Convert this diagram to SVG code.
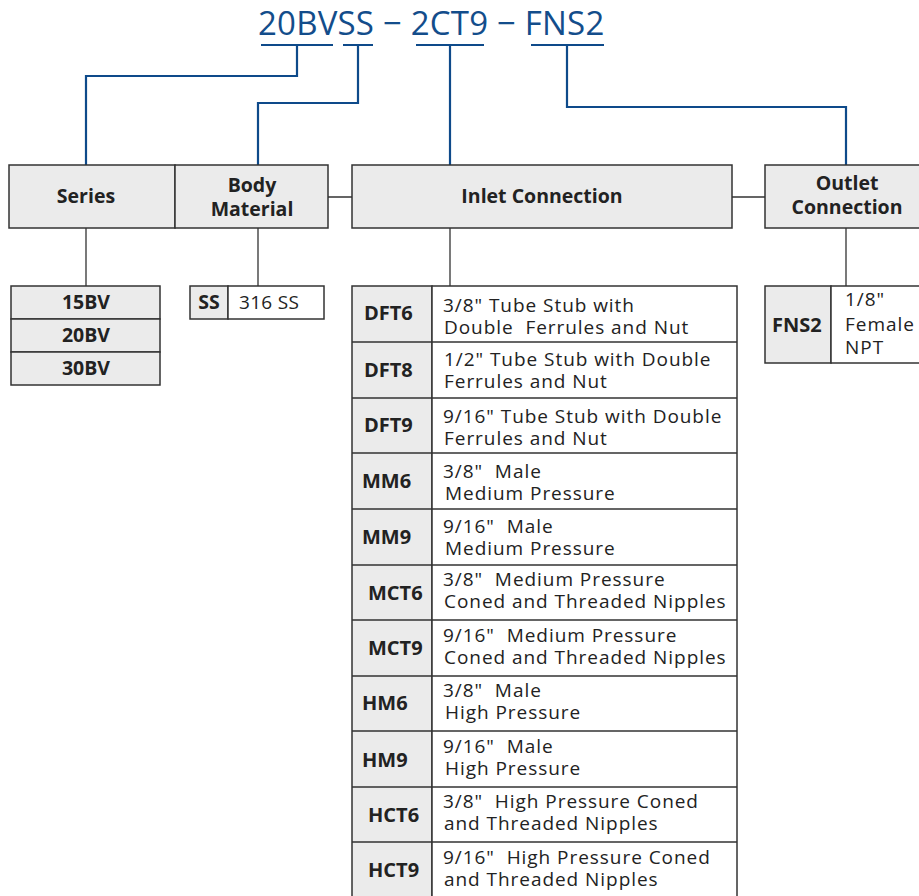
<svg xmlns="http://www.w3.org/2000/svg" width="919" height="896" viewBox="0 0 919 896">
<style>
.t{font-family:"Open Sans","Liberation Sans",sans-serif;fill:#222;white-space:pre}
.b{font-weight:bold;font-size:20px}
.r{font-size:19px;letter-spacing:0.95px}
.h{font-weight:bold;font-size:19.5px;text-anchor:middle}
.title{font-family:"Open Sans","Liberation Sans",sans-serif;font-size:33px;fill:#134d8b;white-space:pre;letter-spacing:0.2px}
.box{fill:#ebebeb;stroke:#333;stroke-width:1.5}
.cell{fill:#fff;stroke:#333;stroke-width:1.5}
.blue{fill:none;stroke:#0e4a8a;stroke-width:2.2}
.gray{fill:none;stroke:#333;stroke-width:1.3}
</style>
<rect width="919" height="896" fill="#fff"/>
<g id="title">
<text class="title" x="258" y="35">20BVSS − 2CT9 − FNS2</text>
</g>
<g id="connectors">
<path class="blue" d="M261 45H333M343 45H373M416 45H484M531 45H604"/>
<path class="blue" d="M297 45V76H86V165"/>
<path class="blue" d="M358 45V103H258V165"/>
<path class="blue" d="M450 45V165"/>
<path class="blue" d="M567 45V107H846V165"/>
<path class="gray" d="M328 197H352M732 197H765"/>
<path class="gray" d="M86 228V286M258 228V286M450 228V286M846 228V286"/>
</g>
<g id="header-series">
<rect class="box" x="9" y="165" width="166" height="63"/>
<text class="t h" x="86" y="203">Series</text>
</g>
<g id="header-body">
<rect class="box" x="175" y="165" width="153" height="63"/>
<text class="t h" x="252" y="192">Body</text>
<text class="t h" x="252" y="216">Material</text>
</g>
<g id="header-inlet">
<rect class="box" x="352" y="165" width="380" height="63"/>
<text class="t h" x="542" y="203">Inlet Connection</text>
</g>
<g id="header-outlet">
<rect class="box" x="765" y="165" width="160" height="63"/>
<text class="t h" x="847" y="190">Outlet</text>
<text class="t h" x="847" y="214">Connection</text>
</g>
<g id="series-table">
<rect class="box" x="11" y="286" width="149" height="33"/>
<rect class="box" x="11" y="319" width="149" height="33"/>
<rect class="box" x="11" y="352" width="149" height="33"/>
<text class="t h" x="86" y="309">15BV</text>
<text class="t h" x="86" y="342">20BV</text>
<text class="t h" x="86" y="375">30BV</text>
</g>
<g id="body-table">
<rect class="box" x="190" y="286" width="38" height="33"/>
<rect class="cell" x="228" y="286" width="96" height="33"/>
<text class="t h" x="209" y="309">SS</text>
<text class="t r" x="239" y="309" style="letter-spacing:0.3px">316 SS</text>
</g>
<g id="inlet-table">
<rect class="box" x="352" y="286" width="80" height="614"/>
<rect class="cell" x="432" y="286" width="305" height="614"/>
<path class="gray" d="M352 342H737M352 398H737M352 453H737M352 509H737M352 565H737M352 620H737M352 676H737M352 731H737M352 787H737M352 842H737" style="stroke-width:1.5"/>
<text class="t b" x="364" y="320">DFT6</text>
<text class="t r" x="443" y="312">3/8" Tube Stub with</text>
<text class="t r" x="444" y="334">Double  Ferrules and Nut</text>
<text class="t b" x="364" y="377">DFT8</text>
<text class="t r" x="444" y="366">1/2" Tube Stub with Double</text>
<text class="t r" x="444" y="388">Ferrules and Nut</text>
<text class="t b" x="364" y="432">DFT9</text>
<text class="t r" x="443" y="423">9/16" Tube Stub with Double</text>
<text class="t r" x="444" y="445">Ferrules and Nut</text>
<text class="t b" x="362" y="488">MM6</text>
<text class="t r" x="443" y="478">3/8"  Male</text>
<text class="t r" x="445" y="500">Medium Pressure</text>
<text class="t b" x="362" y="544">MM9</text>
<text class="t r" x="443" y="533">9/16"  Male</text>
<text class="t r" x="445" y="555">Medium Pressure</text>
<text class="t b" x="368" y="600">MCT6</text>
<text class="t r" x="443" y="586">3/8"  Medium Pressure</text>
<text class="t r" x="444" y="608">Coned and Threaded Nipples</text>
<text class="t b" x="368" y="655">MCT9</text>
<text class="t r" x="443" y="642">9/16"  Medium Pressure</text>
<text class="t r" x="444" y="664">Coned and Threaded Nipples</text>
<text class="t b" x="362" y="710">HM6</text>
<text class="t r" x="443" y="697">3/8"  Male</text>
<text class="t r" x="445" y="719">High Pressure</text>
<text class="t b" x="362" y="767">HM9</text>
<text class="t r" x="443" y="753">9/16"  Male</text>
<text class="t r" x="445" y="775">High Pressure</text>
<text class="t b" x="368" y="822">HCT6</text>
<text class="t r" x="443" y="808">3/8"  High Pressure Coned</text>
<text class="t r" x="444" y="830">and Threaded Nipples</text>
<text class="t b" x="368" y="877">HCT9</text>
<text class="t r" x="443" y="864">9/16"  High Pressure Coned</text>
<text class="t r" x="444" y="886">and Threaded Nipples</text>
</g>
<g id="outlet-table">
<rect class="box" x="765" y="286" width="66" height="77"/>
<rect class="cell" x="831" y="286" width="95" height="77"/>
<text class="t b" x="772" y="332">FNS2</text>
<text class="t r" x="845" y="306">1/8"</text>
<text class="t r" x="845" y="331">Female</text>
<text class="t r" x="845" y="354">NPT</text>
</g>
</svg>
